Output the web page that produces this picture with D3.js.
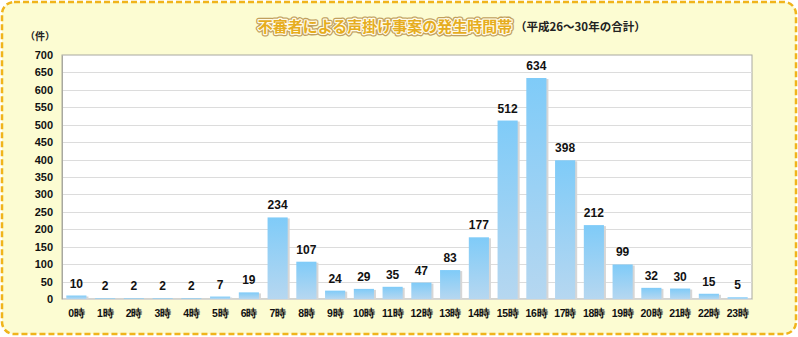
<!DOCTYPE html>
<html><head><meta charset="utf-8">
<script src="https://cdn.jsdelivr.net/npm/d3@7"></script>
<style>
html,body{margin:0;padding:0;background:#fff;}
svg{display:block;font-family:"Noto Sans CJK JP","Noto Sans",sans-serif;}
</style></head>
<body>
<svg id="c" width="798" height="337"></svg>
<script>
// Hours of the day and number of reported cases (H26–H30 total)
const hours = ["0時","1時","2時","3時","4時","5時","6時","7時","8時","9時","10時","11時","12時","13時","14時","15時","16時","17時","18時","19時","20時","21時","22時","23時"];
const cases = [10,2,2,2,2,7,19,234,107,24,29,35,47,83,177,512,634,398,212,99,32,30,15,5];
const yTicks = [0,50,100,150,200,250,300,350,400,450,500,550,600,650,700];
const title = "不審者による声掛け事案の発生時間帯";
const subtitle = "（平成26〜30年の合計）";
const unit = "（件）";

const svg = d3.select("#c");
const defs = svg.append("defs");
const grad = defs.append("linearGradient").attr("id","barGrad").attr("x1",0).attr("y1",0).attr("x2",0).attr("y2",1);
grad.append("stop").attr("offset","0%").attr("stop-color","#7fcbf8");
grad.append("stop").attr("offset","100%").attr("stop-color","#b6d7f0");

// panel background with dashed rounded frame
svg.append("rect").attr("x",2).attr("y",2).attr("width",794).attr("height",332)
  .attr("rx",12).attr("fill","#fcfcd2").attr("stroke","#f0b41c")
  .attr("stroke-width",2.5).attr("stroke-dasharray","6,3");

const plotL = 62, plotR = 752, plotT = 55, plotB = 299;
const x = d3.scaleBand().domain(hours).range([plotL,plotR]).paddingInner(0.3).paddingOuter(0.15);
const y = d3.scaleLinear().domain([0,700]).range([plotB,plotT]);

svg.append("rect").attr("x",plotL).attr("y",plotT).attr("width",plotR-plotL).attr("height",plotB-plotT)
  .attr("fill","#fff").attr("stroke","#a8a8a0").attr("stroke-width",1);

// gridlines
svg.append("g").selectAll("line").data(yTicks.filter(d=>d>0 && d<700)).join("line")
  .attr("x1",plotL).attr("x2",plotR).attr("y1",d=>Math.round(y(d))+0.5).attr("y2",d=>Math.round(y(d))+0.5)
  .attr("stroke","#dcdcdc").attr("stroke-width",1);

// y axis
const yAxis = svg.append("g").attr("transform",`translate(${plotL},0)`)
  .call(d3.axisLeft(y).tickValues(yTicks).tickSize(0).tickPadding(9));
yAxis.select(".domain").attr("stroke","#a8a8a0");
yAxis.selectAll("text").attr("font-size",11).attr("font-weight","bold").attr("fill","#111")
  .attr("font-family","Liberation Sans, Arial, sans-serif");

// x axis labels
const xAxis = svg.append("g").attr("transform",`translate(0,${plotB})`)
  .call(d3.axisBottom(x).tickSize(0).tickPadding(11));
xAxis.select(".domain").attr("stroke","#d8d8d0");
xAxis.selectAll("text").attr("font-size",10.5).attr("font-weight","bold").attr("fill","#111")
  .attr("letter-spacing","-0.3px");

// bar shadows
svg.append("g").selectAll("rect").data(cases).join("rect")
  .attr("x",(d,i)=>x(hours[i])+2).attr("width",x.bandwidth())
  .attr("y",d=>y(d)+1).attr("height",d=>plotB-y(d)-1)
  .attr("fill","#d6d6d6");
// bars
svg.append("g").selectAll("rect").data(cases).join("rect")
  .attr("x",(d,i)=>x(hours[i])).attr("width",x.bandwidth())
  .attr("y",d=>y(d)).attr("height",d=>plotB-y(d))
  .attr("fill","url(#barGrad)");

// value labels
svg.append("g").selectAll("text").data(cases).join("text")
  .attr("x",(d,i)=>x(hours[i])+x.bandwidth()/2).attr("y",d=>y(d)-8)
  .attr("text-anchor","middle").attr("font-size",12).attr("font-weight","bold").attr("fill","#111")
  .attr("font-family","Liberation Sans, Arial, sans-serif")
  .text(d=>d);

// unit label
svg.append("text").attr("x",40).attr("y",40).attr("text-anchor","middle")
  .attr("font-size",10).attr("font-weight","bold").attr("fill","#222").text(unit);

// title with layered outline
const tg = svg.append("g");
const tx = 385, ty = 32;
[["#9a6410",5],["#fffbe8",2.4]].forEach(([c,w])=>{
  tg.append("text").attr("x",tx).attr("y",ty).attr("text-anchor","middle")
    .attr("font-size",15).attr("font-weight","bold").attr("fill",c)
    .attr("stroke",c).attr("stroke-width",w).attr("stroke-linejoin","round")
    .attr("opacity", c==="#9a6410"?0.6:1).text(title);
});
tg.append("text").attr("x",tx).attr("y",ty).attr("text-anchor","middle")
  .attr("font-size",15).attr("font-weight","bold").attr("fill","#e6ad1e").text(title);

svg.append("text").attr("x",515).attr("y",31).attr("font-size",11.5).attr("font-weight","bold")
  .attr("fill","#222").text(subtitle);
</script>
</body></html>
